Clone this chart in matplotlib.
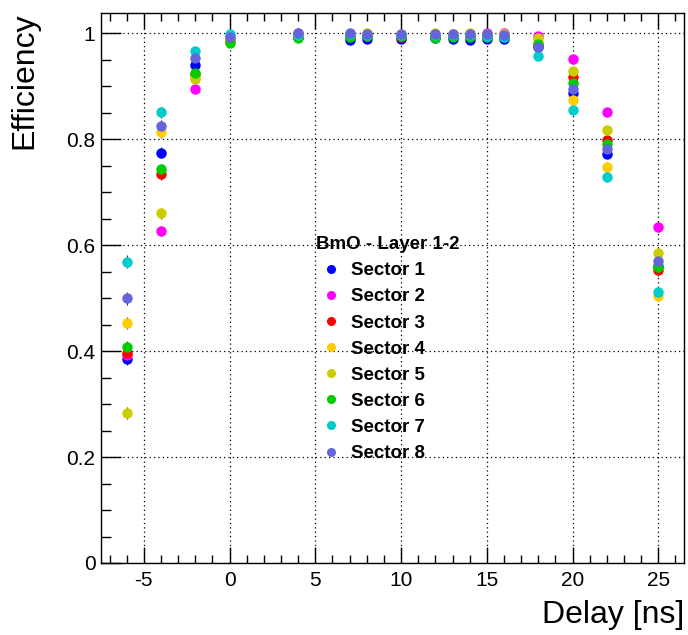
import matplotlib
matplotlib.use("Agg")
import matplotlib.pyplot as plt
import matplotlib.ticker as mticker
from matplotlib.lines import Line2D

plt.rcParams['font.family'] = ['Liberation Sans', 'DejaVu Sans']
plt.rcParams['axes.unicode_minus'] = False

# delay settings [ns]
delays = [-6, -4, -2, 0, 4, 7, 8, 10, 12, 13, 14, 15, 16, 18, 20, 22, 25]

# efficiency per sector
sector_1 = [0.385, 0.775, 0.941, 0.990, 0.993, 0.988, 0.990, 0.989, 0.991, 0.990, 0.987, 0.989, 0.990, 0.975, 0.888, 0.773, 0.560]
sector_2 = [0.392, 0.627, 0.894, 0.992, 1.000, 0.997, 0.997, 0.996, 0.998, 0.998, 0.997, 1.000, 1.000, 0.995, 0.951, 0.851, 0.635]
sector_3 = [0.397, 0.734, 0.924, 0.985, 0.994, 0.994, 0.995, 0.994, 0.995, 0.995, 0.995, 0.995, 0.995, 0.978, 0.918, 0.799, 0.553]
sector_4 = [0.453, 0.813, 0.915, 0.990, 0.996, 0.997, 0.998, 0.997, 0.998, 0.998, 0.997, 0.998, 0.999, 0.985, 0.875, 0.748, 0.505]
sector_5 = [0.283, 0.660, 0.913, 0.990, 0.997, 0.998, 1.000, 0.998, 1.000, 0.998, 1.000, 0.998, 0.998, 0.991, 0.929, 0.817, 0.586]
sector_6 = [0.408, 0.744, 0.926, 0.982, 0.991, 0.994, 0.995, 0.995, 0.992, 0.994, 0.994, 0.994, 0.994, 0.980, 0.907, 0.792, 0.558]
sector_7 = [0.569, 0.851, 0.967, 0.998, 0.997, 0.998, 0.997, 0.997, 0.997, 0.996, 0.996, 0.995, 0.994, 0.957, 0.855, 0.728, 0.511]
sector_8 = [0.500, 0.826, 0.954, 0.994, 1.000, 1.000, 0.998, 0.998, 0.998, 0.999, 0.998, 0.998, 0.996, 0.975, 0.894, 0.782, 0.571]

# rough statistical errors per delay point
errors = [0.012, 0.010, 0.005, 0.002, 0.002, 0.002, 0.002, 0.002, 0.002, 0.002, 0.002, 0.002, 0.002, 0.003, 0.006, 0.009, 0.011]

series = [sector_1, sector_2, sector_3, sector_4, sector_5, sector_6, sector_7, sector_8]
labels = ['Sector 1', 'Sector 2', 'Sector 3', 'Sector 4', 'Sector 5', 'Sector 6', 'Sector 7', 'Sector 8']
colors = ['#0000ff', '#ff00ff', '#ff0000', '#ffcc00', '#cccc00', '#00cc00', '#00cccc', '#6464dc']

fig = plt.figure(figsize=(6.88, 6.35), dpi=100)
ax = fig.add_axes([0.1468, 0.1134, 0.8474, 0.8666])

for vals, col in zip(series, colors):
    ax.errorbar(delays, vals, yerr=errors, fmt='o', color=col, ms=7.5, mew=0,
                ecolor='#333333', elinewidth=0.8, capsize=0, zorder=3)

ax.set_xlim(-7.5, 26.5)
ax.set_ylim(0, 1.039)

ax.xaxis.set_major_locator(mticker.MultipleLocator(5))
ax.xaxis.set_minor_locator(mticker.MultipleLocator(1))
ax.yaxis.set_major_locator(mticker.MultipleLocator(0.2))
ax.yaxis.set_minor_locator(mticker.MultipleLocator(0.05))
ax.yaxis.set_major_formatter(mticker.FormatStrFormatter('%g'))
ax.xaxis.set_major_formatter(mticker.FormatStrFormatter('%g'))

ax.tick_params(axis='x', which='both', direction='in', top=True, bottom=True, labelsize=15, pad=6)
ax.tick_params(axis='x', which='major', length=11.5, width=1)
ax.tick_params(axis='x', which='minor', length=5.8, width=1)
ax.tick_params(axis='y', which='both', direction='in', left=True, right=False, labelsize=15, pad=4)
ax.tick_params(axis='y', which='major', length=14.4, width=1)
ax.tick_params(axis='y', which='minor', length=7.2, width=1)

for sp in ax.spines.values():
    sp.set_linewidth(1)

ax.grid(True, which='major', color='black', linestyle=(0, (1, 2.5)), linewidth=0.9)
ax.set_axisbelow(True)

ax.set_xlabel('Delay [ns]', fontsize=23, loc='right')
ax.set_ylabel('Efficiency', fontsize=23, loc='top')
ax.xaxis.set_label_coords(1.0, -0.068)
ax.yaxis.set_label_coords(-0.105, 1.0)

handles = [Line2D([], [], marker='o', ls='none', color=c, ms=6.5, mew=0) for c in colors]
leg = ax.legend(handles, labels, title='BmO - Layer 1-2', frameon=False,
                loc='upper left', bbox_to_anchor=(0.353, 0.611),
                prop={'weight': 'bold', 'size': 13.5},
                title_fontproperties={'weight': 'bold', 'size': 13.5},
                alignment='left', handlelength=1.6, handletextpad=0.27,
                labelspacing=0.48, borderpad=0)
leg.set_zorder(5)

fig.savefig('out.png', dpi=100)
